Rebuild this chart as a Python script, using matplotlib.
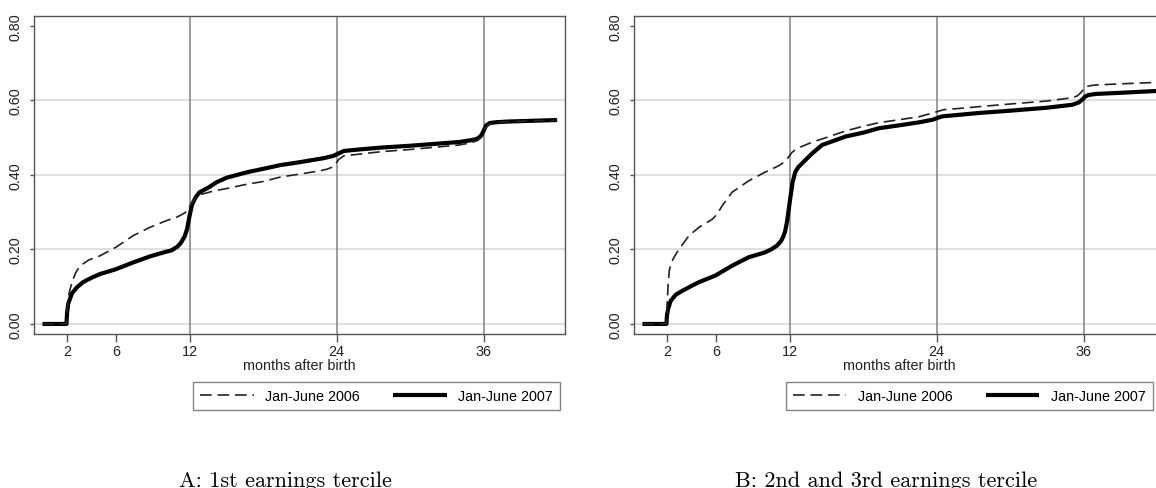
import matplotlib.pyplot as plt

# months after birth and share of mothers back at work
# panel A: 1st earnings tercile
a_m07 = [0, 1.95, 2.0, 2.1, 2.4, 2.8, 3.3, 4.0, 4.7, 6.0, 7.4, 8.75, 10.0, 10.5, 11.0, 11.3, 11.6, 11.8,
         12.0, 12.2, 12.5, 12.8, 13.5, 14.2, 15.0, 16.7, 18.0, 19.4, 21.0, 22.1, 23.0, 23.75, 24.2, 24.6,
         25.5, 27.6, 30, 32, 34, 35.0, 35.5, 35.8, 36.0, 36.2, 36.5, 37.0, 38, 40, 42]
a_v07 = [0, 0, 0.03, 0.055, 0.082, 0.098, 0.112, 0.124, 0.134, 0.147, 0.165, 0.181, 0.193, 0.197, 0.207,
         0.218, 0.235, 0.255, 0.29, 0.32, 0.34, 0.353, 0.365, 0.38, 0.392, 0.407, 0.416, 0.426, 0.434,
         0.44, 0.445, 0.451, 0.458, 0.464, 0.467, 0.473, 0.478, 0.483, 0.488, 0.493, 0.497, 0.505, 0.518,
         0.532, 0.539, 0.541, 0.543, 0.545, 0.547]
a_m06 = [0, 1.95, 2.0, 2.15, 2.4, 2.7, 3.06, 3.8, 4.7, 6.0, 7.4, 8.75, 10.1, 11.0, 11.45, 11.8, 12.0, 12.3,
         12.6, 13.0, 14.0, 15.0, 16.7, 18, 19.4, 21, 22.5, 23.2, 23.6, 23.9, 24.2, 24.6, 26, 27.6, 30, 32,
         34, 35.0, 35.5, 35.8, 36.0, 36.2, 36.5, 37, 38, 40, 42]
a_v06 = [0, 0, 0.04, 0.08, 0.112, 0.137, 0.156, 0.172, 0.183, 0.206, 0.237, 0.259, 0.277, 0.287, 0.295,
         0.302, 0.315, 0.33, 0.342, 0.348, 0.357, 0.363, 0.375, 0.382, 0.394, 0.402, 0.41, 0.415, 0.42,
         0.429, 0.442, 0.451, 0.456, 0.462, 0.468, 0.474, 0.48, 0.486, 0.492, 0.5, 0.515, 0.528, 0.537,
         0.54, 0.543, 0.545, 0.547]

# panel B: 2nd and 3rd earnings tercile
b_m07 = [0, 1.95, 2.0, 2.1, 2.3, 2.7, 3.25, 4.0, 4.6, 5.96, 7.3, 8.67, 10.0, 10.5, 10.97, 11.3, 11.5,
         11.65, 11.8, 12.05, 12.25, 12.46, 12.7, 13.0, 13.4, 13.8, 14.65, 15.5, 16.6, 18, 19.3, 21, 22.6,
         23.7, 24.1, 24.5, 25.85, 27.5, 30, 33, 35.1, 35.6, 35.9, 36.1, 36.4, 37, 39, 42]
b_v07 = [0, 0, 0.025, 0.042, 0.062, 0.078, 0.089, 0.102, 0.112, 0.13, 0.156, 0.179, 0.192, 0.2, 0.21,
         0.222, 0.235, 0.25, 0.275, 0.335, 0.38, 0.407, 0.42, 0.43, 0.443, 0.456, 0.48, 0.49, 0.503,
         0.513, 0.525, 0.533, 0.541, 0.548, 0.553, 0.557, 0.561, 0.566, 0.572, 0.58, 0.588, 0.594, 0.602,
         0.609, 0.614, 0.617, 0.62, 0.625]
b_m06 = [0, 1.95, 2.0, 2.1, 2.2, 2.5, 2.97, 3.8, 4.6, 5.7, 6.1, 6.5, 7.3, 8.67, 10.0, 11.1, 11.6, 11.9,
         12.2, 12.46, 13.0, 13.8, 15, 16.6, 18, 19.3, 21, 22.6, 23.9, 24.6, 25.85, 27.5, 30, 33, 35.1,
         35.5, 35.8, 36.1, 36.5, 37, 39, 42]
b_v06 = [0, 0, 0.05, 0.11, 0.147, 0.175, 0.2, 0.237, 0.259, 0.281, 0.295, 0.317, 0.353, 0.384, 0.407,
         0.424, 0.435, 0.447, 0.46, 0.467, 0.476, 0.487, 0.5, 0.518, 0.53, 0.54, 0.548, 0.556, 0.568,
         0.575, 0.578, 0.583, 0.59, 0.598, 0.607, 0.612, 0.621, 0.635, 0.639, 0.641, 0.644, 0.648]

xticks = [2, 6, 12, 24, 36]
yticks = [0.0, 0.2, 0.4, 0.6, 0.8]
ytick_labels = ['0.00', '0.20', '0.40', '0.60', '0.80']
vlines = [12, 24, 36]
captions = ['A: 1st earnings tercile', 'B: 2nd and 3rd earnings tercile']

plt.rcParams['font.family'] = ['Liberation Sans', 'DejaVu Sans']
fs = 10.4

fig = plt.figure(figsize=(11.56, 4.89), dpi=100)
ax1 = fig.add_axes([0.0294, 0.3149, 0.4594, 0.6503])
ax2 = fig.add_axes([0.5484, 0.3149, 0.4594, 0.6503])

panels = [(ax1, a_m06, a_v06, a_m07, a_v07, 0.991), (ax2, b_m06, b_v06, b_m07, b_v07, 0.977)]
for ax, m06, v06, m07, v07, legx in panels:
    for y in yticks[:-1]:
        ax.axhline(y, color='#dcdcdc', lw=1.3, zorder=0)
    for x in vlines:
        ax.axvline(x, color='#8c8c8c', lw=1.2, zorder=1)
    ax.plot(m06, v06, color='#222222', lw=1.2, dashes=(7, 3.5), label='Jan-June 2006', zorder=3)
    ax.plot(m07, v07, color='black', lw=3.0, label='Jan-June 2007', zorder=2,
            solid_joinstyle='round', solid_capstyle='butt')
    ax.set_xlim(-0.7, 42.65)
    ax.set_ylim(-0.027, 0.826)
    ax.set_xticks(xticks)
    ax.set_yticks(yticks)
    ax.set_yticklabels(ytick_labels, rotation=90, va='center')
    ax.tick_params(axis='x', length=5.5, width=1, color='#555555', labelsize=fs, labelcolor='#222222', pad=2)
    ax.tick_params(axis='y', length=3, width=1, color='#555555', labelsize=fs, labelcolor='#222222', pad=5)
    for s in ax.spines.values():
        s.set_color('#555555')
        s.set_linewidth(1.0)
    ax.set_xlabel('months after birth', fontsize=fs, color='#222222', labelpad=0)
    leg = ax.legend(loc='upper right', bbox_to_anchor=(legx, -0.151), borderaxespad=0, ncol=2,
                    fontsize=fs, fancybox=False, edgecolor='#666666', handlelength=3.7,
                    columnspacing=2.3, handletextpad=0.8, borderpad=0.5)
    leg.get_frame().set_linewidth(1.0)

fig.text(285 / 1156, 1 - 481 / 489, captions[0], fontsize=16, family='cmr10', ha='center', va='center')
fig.text(886 / 1156, 1 - 481 / 489, captions[1], fontsize=16, family='cmr10', ha='center', va='center')

fig.savefig('out.png', dpi=100)
